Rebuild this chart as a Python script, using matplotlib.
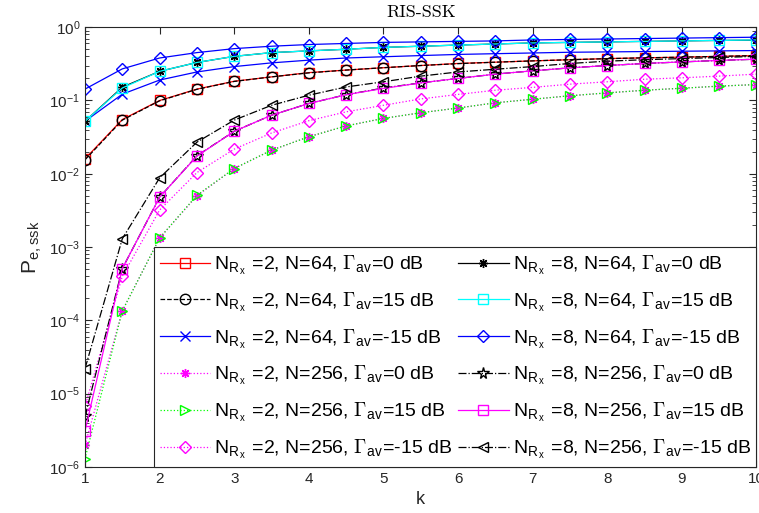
import math
import matplotlib
matplotlib.use("Agg")
import matplotlib.pyplot as plt
from matplotlib.ticker import LogLocator, FixedLocator, FuncFormatter, NullFormatter

plt.rcParams['font.family'] = ['Liberation Sans', 'DejaVu Sans']
plt.rcParams['mathtext.fontset'] = 'cm'

# k values
k = [1, 1.5, 2, 2.5, 3, 3.5, 4, 4.5, 5, 5.5, 6, 6.5, 7, 7.5, 8, 8.5, 9, 9.5, 10]

# N_Rx = 2
p2_64_0 = [0.016, 0.055, 0.10, 0.143, 0.183, 0.21, 0.24, 0.26, 0.28, 0.30, 0.32, 0.333,
           0.347, 0.36, 0.373, 0.382, 0.39, 0.40, 0.41]
p2_64_15 = [0.0155, 0.054, 0.099, 0.142, 0.182, 0.21, 0.238, 0.26, 0.28, 0.30, 0.318, 0.333,
            0.347, 0.36, 0.372, 0.382, 0.39, 0.40, 0.41]
p2_64_m15 = [0.052, 0.122, 0.19, 0.245, 0.29, 0.326, 0.355, 0.38, 0.395, 0.41, 0.425, 0.435,
             0.445, 0.455, 0.46, 0.465, 0.47, 0.475, 0.48]
p2_256_0 = [2.0e-6, 1.35e-4, 1.33e-3, 5.0e-3, 0.0118, 0.021, 0.032, 0.045, 0.057, 0.068,
            0.079, 0.093, 0.104, 0.116, 0.127, 0.138, 0.147, 0.157, 0.165]
p2_256_15 = [1.3e-6, 1.35e-4, 1.33e-3, 5.1e-3, 0.0118, 0.021, 0.032, 0.045, 0.057, 0.068,
             0.079, 0.093, 0.104, 0.116, 0.127, 0.138, 0.147, 0.157, 0.165]
p2_256_m15 = [6.7e-6, 4.0e-4, 3.2e-3, 0.0104, 0.0217, 0.036, 0.053, 0.07, 0.086, 0.105,
              0.121, 0.138, 0.151, 0.167, 0.18, 0.195, 0.204, 0.215, 0.229]

# N_Rx = 8
p8_64_0 = [0.052, 0.152, 0.25, 0.33, 0.40, 0.45, 0.475, 0.50, 0.53, 0.55, 0.57, 0.59,
           0.61, 0.62, 0.63, 0.64, 0.65, 0.66, 0.665]
p8_64_15 = [0.052, 0.148, 0.25, 0.33, 0.40, 0.45, 0.475, 0.50, 0.53, 0.55, 0.57, 0.59,
            0.61, 0.62, 0.63, 0.64, 0.65, 0.66, 0.67]
p8_64_m15 = [0.143, 0.27, 0.38, 0.45, 0.51, 0.55, 0.58, 0.60, 0.62, 0.63, 0.64, 0.65,
             0.67, 0.68, 0.69, 0.70, 0.71, 0.72, 0.73]
p8_256_0 = [4.9e-6, 5.1e-4, 4.8e-3, 0.0176, 0.038, 0.063, 0.091, 0.12, 0.148, 0.174,
            0.20, 0.229, 0.254, 0.279, 0.30, 0.32, 0.336, 0.352, 0.366]
p8_256_15 = [3.1e-6, 5.1e-4, 4.8e-3, 0.0174, 0.038, 0.063, 0.091, 0.12, 0.146, 0.174,
             0.20, 0.229, 0.254, 0.279, 0.30, 0.32, 0.336, 0.352, 0.366]
p8_256_m15 = [2.2e-5, 1.3e-3, 8.8e-3, 0.027, 0.054, 0.086, 0.118, 0.153, 0.18, 0.215,
              0.245, 0.267, 0.29, 0.32, 0.344, 0.36, 0.373, 0.386, 0.40]


def lab(nrx, n, g):
    return (r'N$_{\mathregular{R}_{\mathregular{x}}}$ =%d, N=%d, $\Gamma_{\mathregular{av}}$=%s dB'
            % (nrx, n, g))


fig = plt.figure(figsize=(7.59, 5.13), dpi=100)
ax = fig.add_axes([0.112, 0.0897, 0.8847, 0.8573])

lw = 0.9
ms = 6.5
ax.plot(k, p2_64_0, '-', color='#ff0000', marker='s', mfc='none', ms=ms, lw=lw, label=lab(2, 64, '0'))
ax.plot(k, p2_64_15, '--', color='k', marker='o', mfc='none', ms=ms + 1, lw=lw, label=lab(2, 64, '15'))
ax.plot(k, p2_64_m15, '-', color='#0000ff', marker='x', ms=ms, lw=lw, label=lab(2, 64, '-15'))
ax.plot(k, p2_256_0, ':', color='#ff00ff', marker=(8, 2, 0), ms=ms, lw=lw, label=lab(2, 256, '0'))
ax.plot(k, p2_256_15, ':', color='#00ff00', marker='>', mfc='none', ms=ms + 1, lw=lw, label=lab(2, 256, '15'))
ax.plot(k, p2_256_m15, ':', color='#ff00ff', marker='D', mfc='none', ms=ms, lw=lw, label=lab(2, 256, '-15'))
ax.plot(k, p8_64_0, '-', color='k', marker=(8, 2, 0), ms=ms, lw=lw, label=lab(8, 64, '0'))
ax.plot(k, p8_64_15, '-', color='#00ffff', marker='s', mfc='none', ms=ms, lw=lw, label=lab(8, 64, '15'))
ax.plot(k, p8_64_m15, '-', color='#0000ff', marker='D', mfc='none', ms=ms, lw=lw, label=lab(8, 64, '-15'))
ax.plot(k, p8_256_0, '-.', color='k', marker='*', mfc='none', ms=ms + 2, lw=lw, label=lab(8, 256, '0'))
ax.plot(k, p8_256_15, '-', color='#ff00ff', marker='s', mfc='none', ms=ms, lw=lw, label=lab(8, 256, '15'))
ax.plot(k, p8_256_m15, '-.', color='k', marker='<', mfc='none', ms=ms + 1, lw=lw, label=lab(8, 256, '-15'))

ax.set_yscale('log')
ax.set_xlim(1, 10)
ax.set_ylim(1e-6, 1)
ax.xaxis.set_major_locator(FixedLocator(list(range(1, 11))))
ax.yaxis.set_major_locator(LogLocator(base=10, numticks=10))
ax.yaxis.set_minor_locator(LogLocator(base=10, subs=[2, 3, 4, 5, 6, 7, 8, 9], numticks=20))
ax.yaxis.set_minor_formatter(NullFormatter())
ax.yaxis.set_major_formatter(FuncFormatter(
    lambda v, p: r'$\mathregular{10^{%d}}$' % round(math.log10(v))))

gray = '#262626'
for s in ax.spines.values():
    s.set_color(gray)
    s.set_linewidth(0.8)
ax.tick_params(which='both', direction='in', top=True, right=True, colors=gray,
               labelsize=11, labelcolor=gray)
ax.tick_params(which='major', length=5)
ax.tick_params(which='minor', length=3)

ax.set_title('RIS-SSK', fontfamily='cmr10', fontsize=13, pad=7)
ax.set_xlabel('k', fontsize=13, color=gray)
ax.set_ylabel(r'P$_{\mathregular{e,ssk}}$', fontsize=15, color=gray)

leg = ax.legend(ncol=2, loc='lower right', fontsize=14, borderaxespad=0,
                handlelength=2.6, handletextpad=0.2, columnspacing=0.3,
                labelspacing=0.68, borderpad=0.3, fancybox=False, framealpha=1)
leg.get_frame().set_edgecolor(gray)
leg.get_frame().set_linewidth(0.8)

fig.savefig('out.png', dpi=100)
